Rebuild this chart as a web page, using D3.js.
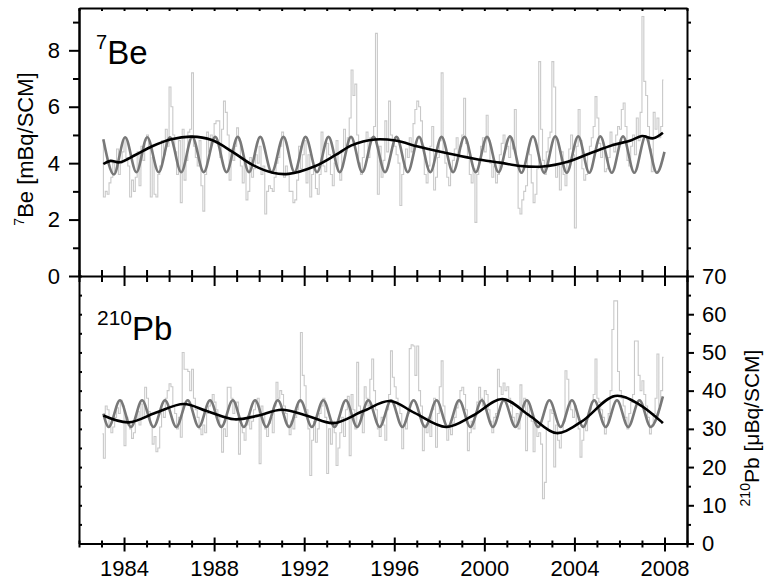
<!DOCTYPE html>
<html><head><meta charset="utf-8">
<script src="https://cdn.jsdelivr.net/npm/d3@7"></script>
<style>body{margin:0;background:#fff} svg{display:block}</style>
</head><body><svg id="chart" width="766" height="582"></svg>
<script>
// ---------------- DATA ----------------
const startYear = 1983;
const be7Monthly = [
 4.8,2.8,3.0,2.9,3.3,3.5,4.0,3.7,4.5,3.6,4.0,4.4,
 4.9,4.2,3.9,2.8,3.4,3.0,3.5,4.4,3.2,4.6,4.1,4.8,
 5.0,4.5,2.8,4.2,2.9,2.8,3.6,3.9,4.8,4.3,5.2,4.6,
 6.7,6.0,5.0,4.4,3.6,4.8,2.6,5.2,3.4,4.1,5.1,5.2,
 7.2,4.6,4.2,3.9,4.8,3.2,2.3,3.6,5.1,4.4,5.0,4.8,
 5.4,5.5,5.5,4.2,5.2,6.2,5.8,5.0,3.4,4.5,4.1,4.6,
 5.25,4.8,3.9,3.3,4.0,2.7,3.0,4.2,3.5,3.8,4.3,4.0,
 4.6,3.6,3.9,2.2,3.0,3.2,3.1,3.0,3.5,4.0,4.2,4.6,
 5.1,3.5,3.9,3.6,3.0,3.0,2.6,2.7,3.4,4.6,3.8,4.3,
 4.8,3.3,4.3,2.8,3.6,3.9,3.1,2.9,3.6,5.1,3.9,3.7,
 4.7,4.3,3.6,3.2,4.0,4.8,3.7,3.4,4.4,5.2,4.6,4.9,
 5.6,7.3,6.4,6.8,5.0,4.0,3.6,4.2,4.8,5.1,4.2,4.9,
 4.9,5.3,8.6,2.9,4.6,3.5,4.1,5.5,4.4,6.2,5.0,4.8,
 4.6,4.3,4.0,2.5,3.6,3.9,4.5,4.2,4.9,4.4,5.4,5.9,
 6.2,6.0,5.5,4.6,3.6,3.3,3.9,4.6,5.3,3.05,3.5,4.2,
 4.8,7.2,4.4,4.0,3.5,3.2,3.7,4.1,4.5,4.9,4.3,4.6,
 5.0,6.3,4.7,4.2,3.6,3.3,3.8,1.9,3.6,4.1,4.6,4.9,
 4.4,5.7,4.8,4.0,3.5,3.9,3.3,3.6,4.3,4.7,5.0,4.5,
 4.6,4.2,4.9,4.5,5.9,3.9,2.4,2.2,2.7,3.0,3.2,4.5,
 4.3,3.3,2.6,2.9,3.8,7.6,5.2,4.1,3.6,4.4,4.9,5.1,
 7.6,6.7,3.5,3.9,3.05,4.4,3.6,3.2,4.0,4.5,5.0,4.3,
 1.7,4.6,5.9,4.8,3.8,3.4,3.6,4.3,4.6,4.9,5.3,6.36,
 5.6,4.7,4.2,4.5,3.7,3.8,4.2,5.1,4.7,4.4,5.0,5.3,
 5.2,5.9,6.13,5.3,4.1,3.9,4.6,5.0,4.3,5.6,4.8,5.8,
 9.2,6.9,6.4,5.3,4.5,3.7,5.8,5.2,5.6,4.9,5.3,6.95
];
const pb210Monthly = [
 28.7,22.3,36.0,35.0,31.0,29.0,30.5,33.0,35.5,34.0,37.5,36.0,
 25.6,33.0,31.0,30.0,27.5,29.0,32.0,34.5,31.0,36.5,33.0,40.9,
 38.0,34.5,31.0,26.0,28.0,24.0,25.0,30.5,35.0,33.0,38.0,40.0,
 41.8,41.0,36.0,34.0,30.0,33.0,27.8,50.0,45.6,45.6,45.0,40.0,
 45.6,38.0,35.0,33.0,30.0,28.5,31.0,29.0,34.0,36.0,37.5,39.0,
 37.0,35.0,33.0,31.0,23.9,30.0,28.0,40.9,40.9,38.0,34.0,36.5,
 37.0,23.4,31.0,29.0,27.0,31.0,33.5,30.0,32.0,35.0,37.5,38.0,
 20.9,36.0,34.0,30.0,28.0,31.5,33.0,29.0,36.0,42.2,38.0,40.0,
 39.0,36.0,34.0,31.0,28.5,32.0,30.0,33.0,35.0,37.0,55.2,44.0,
 41.3,35.0,30.0,17.8,27.0,32.0,26.5,30.0,34.0,36.0,38.0,33.0,
 18.3,30.0,26.0,32.0,29.0,20.4,25.0,29.0,33.0,28.0,35.0,38.5,
 23.0,39.0,35.0,30.0,47.4,36.0,33.0,29.0,41.0,38.0,36.0,43.0,
 48.3,40.0,35.0,30.0,28.0,33.0,31.0,27.0,35.0,39.0,50.4,43.5,
 41.0,38.0,36.0,34.0,24.8,31.0,30.0,34.0,51.0,52.0,51.7,44.0,
 51.7,40.0,36.0,24.3,31.0,29.0,33.0,28.0,35.0,38.0,25.2,34.0,
 41.0,47.8,36.0,31.0,27.0,30.0,28.5,31.5,33.0,35.5,37.0,40.0,
 40.9,39.0,35.0,24.3,29.0,32.0,30.0,33.5,37.0,40.9,38.0,36.0,
 40.0,39.0,35.0,32.0,29.0,33.0,34.0,45.6,41.0,39.0,42.0,40.0,
 41.0,38.0,36.0,33.0,31.0,34.0,30.0,41.5,36.0,38.0,24.3,37.0,
 33.0,32.0,24.0,31.0,28.0,29.0,26.0,11.7,16.0,30.0,32.0,35.0,
 34.0,20.0,31.0,27.0,25.0,29.0,32.0,45.2,43.0,37.0,35.0,33.0,
 36.0,31.0,30.0,22.6,27.0,31.0,29.5,33.0,35.0,37.0,39.0,48.3,
 38.0,37.0,35.0,33.0,28.7,31.0,34.0,40.0,56.0,63.5,63.5,45.0,
 40.0,38.0,36.0,33.0,30.0,34.0,37.0,39.0,53.0,53.0,44.0,40.0,
 42.6,39.0,36.0,33.0,28.7,31.0,34.0,38.0,49.6,36.0,40.0,48.7
];
// seasonal fit: extrema [year, value]
const be7Seasonal = [
 [1983.08,4.85],[1983.55,3.6],[1984.05,4.92],[1984.55,3.68],[1985.03,4.92],[1985.54,3.68],
 [1986.04,4.92],[1986.54,3.68],[1987.03,4.93],[1987.54,3.68],[1988.05,4.93],[1988.55,3.68],
 [1989.05,4.93],[1989.55,3.68],[1990.05,4.93],[1990.56,3.68],[1991.08,4.93],[1991.57,3.68],
 [1992.06,4.93],[1992.57,3.68],[1993.08,4.93],[1993.58,3.68],[1994.08,4.93],[1994.58,3.68],
 [1995.08,4.93],[1995.59,3.68],[1996.10,4.93],[1996.60,3.68],[1997.10,4.93],[1997.60,3.68],
 [1998.10,4.93],[1998.61,3.68],[1999.12,4.93],[1999.62,3.68],[2000.12,4.93],[2000.63,3.68],
 [2001.14,4.95],[2001.65,3.66],[2002.16,4.95],[2002.66,3.66],[2003.15,4.95],[2003.66,3.66],
 [2004.17,4.95],[2004.66,3.66],[2005.15,4.95],[2005.66,3.66],[2006.16,4.95],[2006.66,3.66],
 [2007.16,4.95],[2007.66,3.66],[2008.0,4.4]
];
const be7Trend = [
 [1983.08,3.97],[1983.4,4.08],[1983.8,4.03],[1984.5,4.29],[1985.25,4.6],[1986.1,4.85],
 [1987.0,4.94],[1987.9,4.82],[1988.8,4.41],[1989.7,3.94],[1990.6,3.66],[1991.3,3.62],
 [1992.5,3.9],[1993.4,4.29],[1994.1,4.63],[1995.15,4.84],[1996.05,4.8],[1997.05,4.59],
 [1998.0,4.41],[1998.9,4.26],[1999.9,4.11],[2000.7,4.02],[2001.6,3.9],[2002.6,3.88],
 [2003.7,4.05],[2004.7,4.35],[2005.75,4.65],[2006.5,4.8],[2007.0,4.96],[2007.5,4.88],[2007.93,5.08]
];
const pb210Seasonal = [
 [1983.08,34.0],[1983.32,30.5],[1983.82,37.5],[1984.31,30.5],[1984.8,37.5],[1985.31,30.5],
 [1985.82,37.5],[1986.32,30.5],[1986.83,37.5],[1987.32,30.5],[1987.82,37.5],[1988.32,30.5],
 [1988.83,37.5],[1989.32,30.5],[1989.82,37.5],[1990.32,30.5],[1990.83,37.5],[1991.33,30.5],
 [1991.83,37.5],[1992.34,30.5],[1992.85,37.5],[1993.35,30.5],[1993.85,37.5],[1994.35,30.5],
 [1994.85,37.5],[1995.35,30.5],[1995.86,37.5],[1996.36,30.5],[1996.86,37.5],[1997.37,30.5],
 [1997.88,37.5],[1998.38,30.5],[1998.88,37.5],[1999.38,30.5],[1999.89,37.5],[2000.38,30.5],
 [2000.87,37.5],[2001.38,30.5],[2001.89,37.5],[2002.39,30.5],[2002.89,37.5],[2003.39,30.5],
 [2003.89,37.5],[2004.39,30.5],[2004.88,37.5],[2005.39,30.5],[2005.89,37.5],[2006.39,30.5],
 [2006.89,37.5],[2007.39,30.5],[2007.93,38.5]
];
const pb210Trend = [
 [1983.08,33.5],[1984.2,31.7],[1985.4,34.2],[1986.65,36.5],[1987.7,34.6],[1988.9,32.5],
 [1989.9,33.4],[1991.0,35.0],[1992.2,33.3],[1993.3,31.5],[1994.6,34.6],[1995.8,37.3],
 [1996.9,34.2],[1998.3,30.5],[1999.5,33.5],[2000.8,37.8],[2002.0,33.5],[2003.2,28.9],
 [2004.3,31.8],[2005.8,38.6],[2006.9,36.3],[2007.93,31.5]
];
const xMajorYears = [1984,1988,1992,1996,2000,2004,2008];
const xAllYears = d3.range(1982, 2010);
const be7MajorTicks = [0,2,4,6,8];
const be7MinorTicks = [1,3,5,7,9];
const be7RightTicks = [1,2,3,4,5,6,7,8,9];
const pb210MajorTicks = [0,10,20,30,40,50,60,70];
const pb210MinorTicks = [5,15,25,35,45,55,65];
const pb210LeftTicks = d3.range(0, 75, 5);

// ---------------- CHART ----------------
const svg = d3.select('#chart');
const FONT = 'Liberation Sans, Arial, Helvetica, sans-serif';
const xL = 79, xR = 687, yT = 8, yM = 276, yB = 543.5;

const x = d3.scaleLinear().domain([1982, 2009]).range([xL, xR]);
const yTop = d3.scaleLinear().domain([0, 9.5]).range([yM, yT]);
const yBot = d3.scaleLinear().domain([0, 70]).range([yB, yM]);

const monthX = i => startYear + (i + 0.5) / 12;

function drawPanel(monthly, seasonal, trend, y) {
  const g = svg.append('g');
  g.append('path').datum(monthly)
    .attr('fill', 'none').attr('stroke', '#c9c9c9').attr('stroke-width', 1.1)
    .attr('d', d3.line().x((d, i) => x(monthX(i))).y(d => y(d)).curve(d3.curveStep));
  g.append('path').datum(seasonal)
    .attr('fill', 'none').attr('stroke', '#787878').attr('stroke-width', 2.6)
    .attr('d', d3.line().x(d => x(d[0])).y(d => y(d[1])).curve(d3.curveMonotoneX));
  g.append('path').datum(trend)
    .attr('fill', 'none').attr('stroke', '#000').attr('stroke-width', 2.6)
    .attr('d', d3.line().x(d => x(d[0])).y(d => y(d[1])).curve(d3.curveCatmullRom.alpha(0.5)));
}
drawPanel(be7Monthly, be7Seasonal, be7Trend, yTop);
drawPanel(pb210Monthly, pb210Seasonal, pb210Trend, yBot);

function styleAxis(g) {
  g.selectAll('path.domain').attr('stroke', '#000').attr('stroke-width', 2);
  g.selectAll('line').attr('stroke', '#000').attr('stroke-width', 2);
  g.selectAll('text').attr('font-family', FONT).attr('font-size', 22).attr('fill', '#000');
}

// Top panel left axis
svg.append('g').attr('transform', `translate(${xL},0)`)
  .call(d3.axisLeft(yTop).tickValues(be7MajorTicks).tickSize(10).tickPadding(9).tickSizeOuter(0)).call(styleAxis);
svg.append('g').attr('transform', `translate(${xL},0)`)
  .call(d3.axisLeft(yTop).tickValues(be7MinorTicks).tickSize(6).tickFormat('').tickSizeOuter(0)).call(styleAxis);
// Top panel right axis
svg.append('g').attr('transform', `translate(${xR},0)`)
  .call(d3.axisRight(yTop).tickValues(be7RightTicks).tickSize(4).tickFormat('').tickSizeOuter(0)).call(styleAxis);
// Top border with small inward ticks
svg.append('g').attr('transform', `translate(0,${yT})`)
  .call(d3.axisBottom(x).tickValues(xAllYears).tickSize(3).tickFormat('').tickSizeOuter(0)).call(styleAxis);

// Middle axis with crossing ticks
const mid = svg.append('g').attr('transform', `translate(0,${yM})`)
  .call(d3.axisBottom(x).tickValues(xAllYears).tickSize(6).tickFormat('').tickSizeOuter(0)).call(styleAxis);
mid.selectAll('.tick line')
  .attr('y1', d => xMajorYears.includes(d) ? -10 : -6)
  .attr('y2', d => xMajorYears.includes(d) ? 10 : 6);

// Bottom panel left axis (inward ticks, no labels)
svg.append('g').attr('transform', `translate(${xL},0)`)
  .call(d3.axisRight(yBot).tickValues(pb210LeftTicks).tickSize(3).tickFormat('').tickSizeOuter(0)).call(styleAxis);
// Bottom panel right axis
svg.append('g').attr('transform', `translate(${xR},0)`)
  .call(d3.axisRight(yBot).tickValues(pb210MajorTicks).tickSize(7).tickPadding(8).tickSizeOuter(0)).call(styleAxis);
svg.append('g').attr('transform', `translate(${xR},0)`)
  .call(d3.axisRight(yBot).tickValues(pb210MinorTicks).tickSize(4).tickFormat('').tickSizeOuter(0)).call(styleAxis);

// Bottom x axis
const bot = svg.append('g').attr('transform', `translate(0,${yB})`)
  .call(d3.axisBottom(x).tickValues(xAllYears).tickSize(7).tickPadding(10)
    .tickFormat(d => xMajorYears.includes(d) ? String(d) : '').tickSizeOuter(0)).call(styleAxis);
bot.selectAll('.tick line')
  .attr('y1', d => xMajorYears.includes(d) ? -6 : -3)
  .attr('y2', d => xMajorYears.includes(d) ? 8 : 4);

// Panel labels
const lab1 = svg.append('text').attr('x', 96).attr('y', 64)
  .attr('font-family', FONT).attr('font-size', 33).attr('fill', '#000');
lab1.append('tspan').attr('font-size', 20).attr('dy', -15).text('7');
lab1.append('tspan').attr('dy', 15).text('Be');

const lab2 = svg.append('text').attr('x', 97).attr('y', 340)
  .attr('font-family', FONT).attr('font-size', 33).attr('fill', '#000');
lab2.append('tspan').attr('font-size', 21).attr('dy', -15).text('210');
lab2.append('tspan').attr('dy', 15).text('Pb');

// Axis titles
const t1 = svg.append('text').attr('transform', 'translate(33,149) rotate(-90)')
  .attr('text-anchor', 'middle').attr('font-family', FONT).attr('font-size', 22).attr('fill', '#000');
t1.append('tspan').attr('font-size', 14).attr('dy', -9).text('7');
t1.append('tspan').attr('dy', 9).text('Be [mBq/SCM]');

const t2 = svg.append('text').attr('transform', 'translate(759,428) rotate(-90)')
  .attr('text-anchor', 'middle').attr('font-family', FONT).attr('font-size', 21).attr('fill', '#000');
t2.append('tspan').attr('font-size', 14).attr('dy', -9).text('210');
t2.append('tspan').attr('dy', 9).text('Pb [μBq/SCM]');
</script></body></html>
